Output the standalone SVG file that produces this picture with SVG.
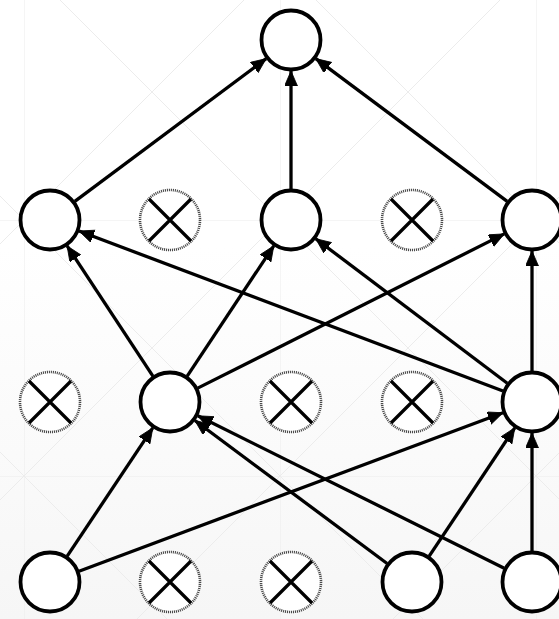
<svg xmlns="http://www.w3.org/2000/svg" width="559" height="619" viewBox="0 0 559 619">
  <defs>
    <linearGradient id="bg" x1="0" y1="0" x2="0" y2="1">
      <stop offset="0" stop-color="#ffffff"/>
      <stop offset="0.4" stop-color="#ffffff"/>
      <stop offset="1" stop-color="#f6f6f6"/>
    </linearGradient>
    <pattern id="tile" patternUnits="userSpaceOnUse" x="24" y="220" width="256" height="256">
      <path d="M0,0 H256 M0,0 V256 M0,0 L256,256 M256,0 L0,256" fill="none" stroke="#ececec" stroke-width="1"/>
    </pattern>
    <marker id="arrow" markerUnits="userSpaceOnUse" markerWidth="16" markerHeight="14" refX="15" refY="6.5" orient="auto">
      <path d="M0,0 L15,6.5 L0,13 z" fill="#000" stroke="#000" stroke-width="0.8" stroke-linejoin="miter"/>
    </marker>
    <style>
      .node { fill: #ffffff; stroke: #000; stroke-width: 3.8; }
      .drop { fill: #ffffff; stroke: #4a4a4a; stroke-width: 2.6; stroke-dasharray: 1.1 0.9; }
      .cross { stroke: #000; stroke-width: 3.2; stroke-linecap: butt; }
      .edge { stroke: #000; stroke-width: 3.3; fill: none; marker-end: url(#arrow); }
    </style>
  </defs>

  <rect x="0" y="0" width="559" height="619" fill="url(#bg)"/>
  <rect x="0" y="0" width="559" height="619" fill="url(#tile)"/>

  <g id="connectors">
    <line class="edge" x1="74.8" y1="201.4" x2="266.2" y2="58.6"/>
    <line class="edge" x1="291" y1="189" x2="291" y2="71"/>
    <line class="edge" x1="507.2" y1="201.4" x2="315.8" y2="58.6"/>
    <line class="edge" x1="152.9" y1="376.1" x2="67.1" y2="245.9"/>
    <line class="edge" x1="187.2" y1="376.2" x2="273.8" y2="245.8"/>
    <line class="edge" x1="197.7" y1="388.1" x2="504.3" y2="233.9"/>
    <line class="edge" x1="503.0" y1="391.0" x2="79.0" y2="231.0"/>
    <line class="edge" x1="507.3" y1="383.3" x2="315.7" y2="238.7"/>
    <line class="edge" x1="532" y1="371" x2="532" y2="251"/>
    <line class="edge" x1="67.2" y1="556.2" x2="152.8" y2="427.8"/>
    <line class="edge" x1="79.0" y1="571.2" x2="503.0" y2="412.8"/>
    <line class="edge" x1="387.1" y1="563.5" x2="194.9" y2="420.5"/>
    <line class="edge" x1="429.2" y1="556.2" x2="514.8" y2="427.8"/>
    <line class="edge" x1="504.2" y1="568.2" x2="197.8" y2="415.8"/>
    <line class="edge" x1="532" y1="551" x2="532" y2="433"/>
  </g>

  <g id="out"><circle class="node" cx="291" cy="40" r="29.5"/></g>

  <g id="h2a"><circle class="node" cx="50" cy="220" r="29.5"/></g>
  <g id="h2x1"><circle class="drop" cx="170" cy="220" r="30"/><path class="cross" d="M149,199 L191,241 M191,199 L149,241"/></g>
  <g id="h2b"><circle class="node" cx="291" cy="220" r="29.5"/></g>
  <g id="h2x2"><circle class="drop" cx="412" cy="220" r="30"/><path class="cross" d="M391,199 L433,241 M433,199 L391,241"/></g>
  <g id="h2c"><circle class="node" cx="532" cy="220" r="29.5"/></g>

  <g id="h1x1"><circle class="drop" cx="50" cy="402" r="30"/><path class="cross" d="M29,381 L71,423 M71,381 L29,423"/></g>
  <g id="h1a"><circle class="node" cx="170" cy="402" r="29.5"/></g>
  <g id="h1x2"><circle class="drop" cx="291" cy="402" r="30"/><path class="cross" d="M270,381 L312,423 M312,381 L270,423"/></g>
  <g id="h1x3"><circle class="drop" cx="412" cy="402" r="30"/><path class="cross" d="M391,381 L433,423 M433,381 L391,423"/></g>
  <g id="h1b"><circle class="node" cx="532" cy="402" r="29.5"/></g>

  <g id="in1"><circle class="node" cx="50" cy="582" r="29.5"/></g>
  <g id="inx1"><circle class="drop" cx="170" cy="582" r="30"/><path class="cross" d="M149,561 L191,603 M191,561 L149,603"/></g>
  <g id="inx2"><circle class="drop" cx="291" cy="582" r="30"/><path class="cross" d="M270,561 L312,603 M312,561 L270,603"/></g>
  <g id="in2"><circle class="node" cx="412" cy="582" r="29.5"/></g>
  <g id="in3"><circle class="node" cx="532" cy="582" r="29.5"/></g>
</svg>
